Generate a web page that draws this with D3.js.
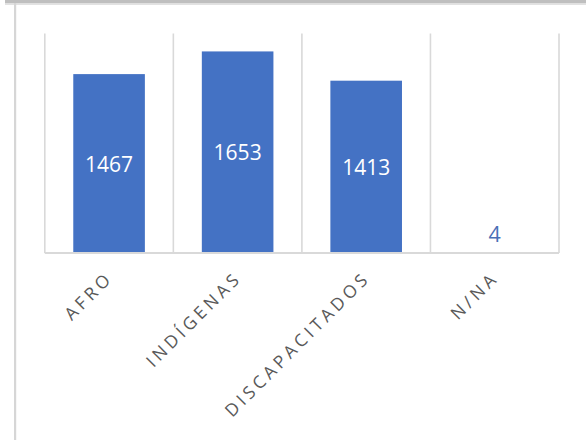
<!DOCTYPE html>
<html>
<head>
<meta charset="utf-8">
<script src="https://cdn.jsdelivr.net/npm/d3@7"></script>
<style>
  body { margin: 0; background: #ffffff; }
  svg { display: block; font-family: 'Open Sans', 'Liberation Sans', sans-serif; }
</style>
</head>
<body>
<div class="chartWrapper"></div>
<script>
// chart data
let categories = ['AFRO', 'INDÍGENAS', 'DISCAPACITADOS', 'N/NA'];
let values = [1467, 1653, 1413, 4];
let yDomain = [0, 1800];

let width = 586,
    height = 440,
    plotLeft = 44.8,
    plotRight = 559,
    plotTop = 33.5,
    plotBottom = 253;

let svg = d3.select('.chartWrapper')
    .append('svg')
    .attr('width', width)
    .attr('height', height);

// frame: grey top band and left edge
svg.append('rect')
    .attr('x', 5).attr('y', 0)
    .attr('width', width - 5).attr('height', 3.5)
    .attr('fill', '#bfbfbf');
svg.append('rect')
    .attr('x', 5).attr('y', 3.5)
    .attr('width', width - 5).attr('height', 1.5)
    .attr('fill', '#e2e2e2');
svg.append('rect')
    .attr('x', 14).attr('y', 3)
    .attr('width', 2.2).attr('height', height - 3)
    .attr('fill', '#d6d6d6');

// scales
let xScale = d3.scaleBand()
    .domain(categories)
    .range([plotLeft, plotRight])
    .paddingInner(0.443)
    .paddingOuter(0.2215);

let yScale = d3.scaleLinear()
    .domain(yDomain)
    .range([plotBottom, plotTop]);

// vertical gridlines between categories
let gap = xScale.step() * xScale.paddingInner() / 2;
let gridX = categories.map(c => xScale(c) - gap).concat([plotRight]);

svg.append('g')
    .selectAll('line')
    .data(gridX)
    .enter()
    .append('line')
    .attr('x1', d => d).attr('x2', d => d)
    .attr('y1', yScale(yDomain[1])).attr('y2', yScale(0))
    .attr('stroke', '#d9d9d9')
    .attr('stroke-width', 1.6);

// bars
svg.append('g')
    .selectAll('rect')
    .data(values)
    .enter()
    .append('rect')
    .attr('x', (d, i) => xScale(categories[i]))
    .attr('y', d => yScale(d))
    .attr('width', xScale.bandwidth())
    .attr('height', d => yScale(0) - yScale(d))
    .attr('fill', '#4472c4');

// baseline axis
svg.append('line')
    .attr('x1', plotLeft).attr('x2', plotRight)
    .attr('y1', yScale(0)).attr('y2', yScale(0))
    .attr('stroke', '#d9d9d9')
    .attr('stroke-width', 1.8);

// value labels: centred inside, above when bar too short
let fits = d => (yScale(0) - yScale(d)) > 30;

svg.append('g')
    .selectAll('text')
    .data(values)
    .enter()
    .append('text')
    .attr('x', (d, i) => xScale(categories[i]) + xScale.bandwidth() / 2)
    .attr('y', d => fits(d) ? (yScale(d) + yScale(0)) / 2 : yScale(d) - 11)
    .attr('dy', d => fits(d) ? '0.38em' : 0)
    .attr('text-anchor', 'middle')
    .style('font-size', d => fits(d) ? '21px' : '21.5px')
    .attr('fill', d => fits(d) ? '#ffffff' : '#4a6fb5')
    .text(d => d);

// category labels rotated
let xAxis = d3.axisBottom(xScale).tickSize(0).tickPadding(0);
let xAxisGroup = svg.append('g')
    .attr('transform', 'translate(0,' + yScale(0) + ')')
    .call(xAxis);
xAxisGroup.select('.domain').remove();
xAxisGroup.selectAll('text')
    .attr('y', 0)
    .attr('dy', 0)
    .attr('text-anchor', 'end')
    .attr('transform', 'translate(5,26) rotate(-45)')
    .style('font-size', '17.5px')
    .style('letter-spacing', '3.8px')
    .style('font-family', "'Open Sans', sans-serif")
    .attr('fill', '#595959');
</script>
</body>
</html>
